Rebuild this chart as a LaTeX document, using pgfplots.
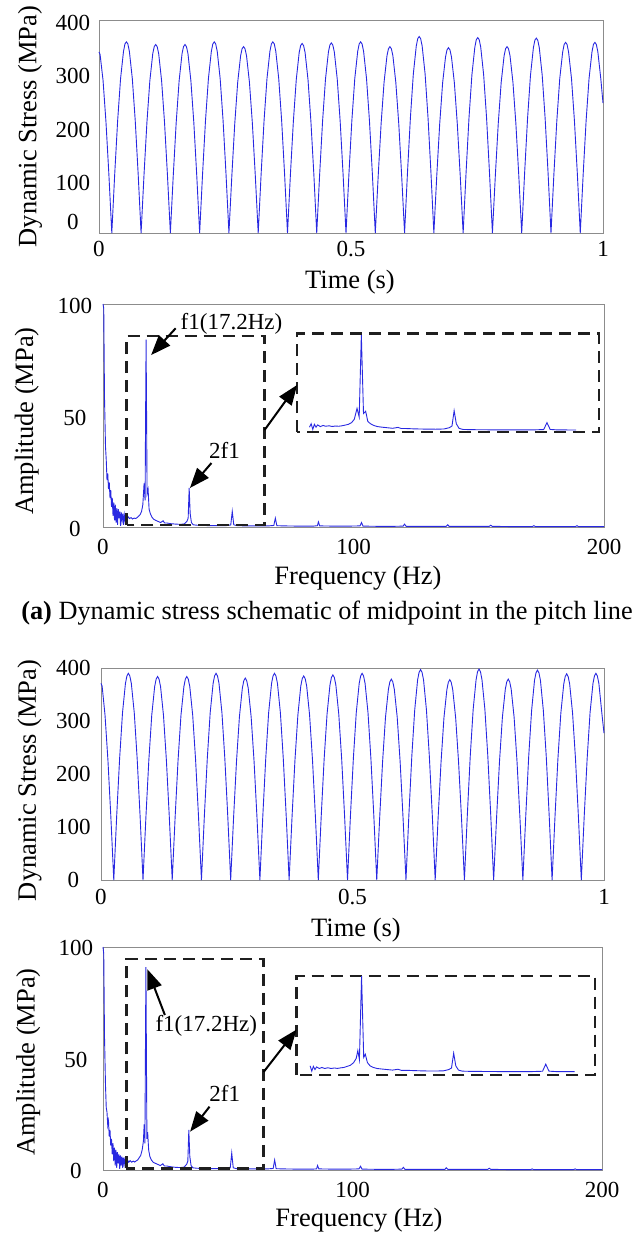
\documentclass[border=0pt]{standalone}
\usepackage{fontspec}
\setmainfont{Liberation Serif}
\usepackage{pgfplots}
\usepackage{pgfplotstable}
\pgfplotsset{compat=1.18}
\usetikzlibrary{arrows.meta}

\definecolor{sigblue}{RGB}{40,40,225}
\definecolor{framegray}{RGB}{140,140,140}

\pgfplotstableread{
t y
0 340
0.0022 335
0.0080 287
0.0138 209
0.0196 110
0.0254 0
0.0312 111
0.0370 211
0.0428 290
0.0486 341
0.0515 355
0.0544 359
0.0573 355
0.0603 341
0.0661 290
0.0719 211
0.0777 111
0.0835 0
0.0893 109
0.0951 208
0.1009 286
0.1067 337
0.1096 350
0.1125 354
0.1154 350
0.1184 337
0.1242 286
0.1300 208
0.1358 109
0.1416 0
0.1474 109
0.1532 208
0.1590 286
0.1648 337
0.1677 350
0.1706 354
0.1735 350
0.1765 337
0.1823 286
0.1881 208
0.1939 109
0.1997 0
0.2055 111
0.2113 211
0.2171 290
0.2229 341
0.2258 355
0.2287 359
0.2316 355
0.2346 341
0.2404 290
0.2462 211
0.2520 111
0.2578 0
0.2636 108
0.2694 206
0.2752 283
0.2810 333
0.2839 346
0.2868 350
0.2897 346
0.2927 333
0.2985 283
0.3043 206
0.3101 108
0.3159 0
0.3217 111
0.3275 211
0.3333 290
0.3391 341
0.3420 355
0.3449 359
0.3478 355
0.3508 341
0.3566 290
0.3624 211
0.3682 111
0.3740 0
0.3798 110
0.3856 209
0.3914 288
0.3972 339
0.4001 352
0.4030 356
0.4059 352
0.4089 339
0.4147 288
0.4205 209
0.4263 110
0.4320 0
0.4378 110
0.4436 210
0.4494 289
0.4552 340
0.4581 353
0.4610 357
0.4639 353
0.4669 340
0.4727 289
0.4785 210
0.4843 110
0.4901 0
0.4959 111
0.5017 211
0.5075 290
0.5133 341
0.5162 355
0.5191 359
0.5220 355
0.5250 341
0.5308 290
0.5366 211
0.5424 111
0.5482 0
0.5540 108
0.5598 206
0.5656 283
0.5714 333
0.5743 346
0.5772 350
0.5801 346
0.5831 333
0.5889 283
0.5947 206
0.6005 108
0.6063 0
0.6121 114
0.6179 217
0.6237 299
0.6295 351
0.6324 365
0.6353 369
0.6382 365
0.6412 351
0.6470 299
0.6528 217
0.6586 114
0.6644 0
0.6702 108
0.6760 205
0.6818 282
0.6876 331
0.6905 344
0.6934 348
0.6963 344
0.6993 331
0.7051 282
0.7109 205
0.7167 108
0.7225 0
0.7283 113
0.7341 216
0.7399 297
0.7457 349
0.7486 363
0.7515 367
0.7544 363
0.7574 349
0.7632 297
0.7690 216
0.7748 113
0.7806 0
0.7864 108
0.7922 206
0.7980 283
0.8038 333
0.8067 346
0.8096 350
0.8125 346
0.8155 333
0.8213 283
0.8271 206
0.8329 108
0.8387 0
0.8445 113
0.8503 215
0.8561 296
0.8619 348
0.8648 362
0.8677 366
0.8706 362
0.8736 348
0.8794 296
0.8852 215
0.8910 113
0.8968 0
0.9026 111
0.9084 211
0.9142 290
0.9200 340
0.9229 354
0.9258 358
0.9287 354
0.9317 340
0.9375 290
0.9433 211
0.9491 111
0.9549 0
0.9607 111
0.9665 211
0.9723 290
0.9781 340
0.9810 354
0.9839 358
0.9868 354
0.9898 340
0.9956 290
1.0000 244
}\timeA

\pgfplotstableread{
t y
0 371
0.0022 366
0.0080 311
0.0138 226
0.0196 119
0.0254 0
0.0312 121
0.0370 229
0.0428 316
0.0486 371
0.0515 385
0.0544 390
0.0573 385
0.0603 371
0.0661 316
0.0719 229
0.0777 121
0.0835 0
0.0893 119
0.0951 226
0.1009 311
0.1067 365
0.1096 379
0.1125 384
0.1154 379
0.1184 365
0.1242 311
0.1300 226
0.1358 119
0.1416 0
0.1474 119
0.1532 226
0.1590 311
0.1648 365
0.1677 379
0.1706 384
0.1735 379
0.1765 365
0.1823 311
0.1881 226
0.1939 119
0.1997 0
0.2055 121
0.2113 229
0.2171 316
0.2229 371
0.2258 385
0.2287 390
0.2316 385
0.2346 371
0.2404 316
0.2462 229
0.2520 121
0.2578 0
0.2636 118
0.2694 224
0.2752 308
0.2810 362
0.2839 376
0.2868 381
0.2897 376
0.2927 362
0.2985 308
0.3043 224
0.3101 118
0.3159 0
0.3217 121
0.3275 229
0.3333 316
0.3391 371
0.3420 385
0.3449 390
0.3478 385
0.3508 371
0.3566 316
0.3624 229
0.3682 121
0.3740 0
0.3798 119
0.3856 226
0.3914 311
0.3972 366
0.4001 380
0.4030 385
0.4059 380
0.4089 366
0.4147 311
0.4205 226
0.4263 119
0.4320 0
0.4378 120
0.4436 228
0.4494 313
0.4552 368
0.4581 382
0.4610 387
0.4639 382
0.4669 368
0.4727 313
0.4785 228
0.4843 120
0.4901 0
0.4959 121
0.5017 229
0.5075 316
0.5133 371
0.5162 385
0.5191 390
0.5220 385
0.5250 371
0.5308 316
0.5366 229
0.5424 121
0.5482 0
0.5540 117
0.5598 223
0.5656 307
0.5714 360
0.5743 374
0.5772 379
0.5801 374
0.5831 360
0.5889 307
0.5947 223
0.6005 117
0.6063 0
0.6121 123
0.6179 233
0.6237 321
0.6295 378
0.6324 392
0.6353 397
0.6382 392
0.6412 378
0.6470 321
0.6528 233
0.6586 123
0.6644 0
0.6702 117
0.6760 222
0.6818 306
0.6876 359
0.6905 373
0.6934 378
0.6963 373
0.6993 359
0.7051 306
0.7109 222
0.7167 117
0.7225 0
0.7283 123
0.7341 234
0.7399 322
0.7457 378
0.7486 393
0.7515 398
0.7544 393
0.7574 378
0.7632 322
0.7690 234
0.7748 123
0.7806 0
0.7864 117
0.7922 223
0.7980 307
0.8038 360
0.8067 374
0.8096 379
0.8125 374
0.8155 360
0.8213 307
0.8271 223
0.8329 117
0.8387 0
0.8445 122
0.8503 233
0.8561 320
0.8619 377
0.8648 391
0.8677 396
0.8706 391
0.8736 377
0.8794 320
0.8852 233
0.8910 122
0.8968 0
0.9026 120
0.9084 229
0.9142 315
0.9200 370
0.9229 384
0.9258 389
0.9287 384
0.9317 370
0.9375 315
0.9433 229
0.9491 120
0.9549 0
0.9607 121
0.9665 229
0.9723 316
0.9781 371
0.9810 385
0.9839 390
0.9868 385
0.9898 371
0.9956 316
1.0000 277
}\timeB

\pgfplotstableread{
f a
0.0 100
0.3 98
0.6 58
1.0 36
1.3 30
1.6 21
1.9 24
2.2 17
2.5 20
2.8 13
3.1 16.5
3.4 9
3.7 13
4.0 5
4.3 11
4.6 3
4.9 10
5.2 2
5.5 8.5
5.8 1
6.1 8
6.4 4
6.7 7
7.0 0.5
7.3 6.5
7.6 3
7.9 6
8.2 1
8.5 5.5
8.8 3
9.1 5
9.6 3.5
10.1 4.5
10.6 3.8
11.2 4.2
11.8 3.6
12.4 4
13.0 3.8
13.6 4.2
14.2 4.8
14.8 5.5
15.4 7
15.9 10
16.4 19.5
16.8 12
17.2 84
17.6 15
18.0 17
18.4 8
18.9 6
19.5 4.5
20.2 3.5
21.0 3
22.0 2.5
23.0 2
24.0 2.8
24.6 1.8
25.5 1.8
27.0 1.5
29.0 1.3
31.0 1.2
32.5 1.4
33.5 2.5
34.0 4
34.4 17.5
34.8 6
35.3 2
36.0 1
37.5 0.8
40 0.7
43 0.6
46 0.6
49 0.6
51.0 0.9
51.6 7
52.2 1
53.5 0.6
57 0.5
62 0.5
66 0.5
68.2 0.7
68.8 4
69.4 0.6
72 0.5
78 0.4
84 0.4
85.6 0.6
86 2.3
86.5 0.5
92 0.4
98 0.4
102.6 0.5
103.2 2
103.8 0.4
110 0.3
116 0.3
119.8 0.4
120.4 1.3
121 0.3
128 0.3
134 0.3
137.0 0.3
137.6 1
138.2 0.3
145 0.3
151 0.3
154.2 0.3
154.8 0.8
155.4 0.3
162 0.2
168 0.2
171.4 0.2
172 0.6
172.6 0.2
180 0.2
186 0.2
188.6 0.2
189.2 0.6
189.8 0.2
195 0.2
200 0.2
}\specA

\pgfplotstableread{
f a
0.0 100
0.3 97
0.6 60
1.0 38
1.3 28
1.6 26
1.9 20
2.2 22
2.5 15
2.8 18
3.1 11
3.4 14
3.7 7
4.0 12
4.3 4
4.6 10
4.9 2
5.2 9
5.5 1
5.8 8
6.1 3
6.4 7
6.7 0.5
7.0 6.5
7.3 2
7.6 6
7.9 1
8.2 5.5
8.5 2.5
8.8 5
9.3 3.5
9.8 4.5
10.3 3.5
10.9 4.2
11.5 3.5
12.1 4
12.7 3.6
13.3 4.1
13.9 4.5
14.5 5.5
15.1 6.5
15.7 9
16.2 13
16.5 20.5
16.8 12
17.2 91
17.6 14
17.9 17
18.3 9
18.8 6
19.4 4.5
20.1 3.5
21.0 3
22.0 2.5
23.0 2
24.0 2.8
24.6 1.8
25.5 1.8
27.0 1.5
29.0 1.2
31.0 1.1
32.5 1.3
33.5 2.5
34.0 4
34.4 18
34.8 6
35.3 2
36.0 1
37.5 0.8
40 0.7
43 0.6
46 0.6
49 0.6
51.0 0.9
51.6 7.6
52.2 1
53.5 0.6
57 0.5
62 0.5
66 0.5
68.2 0.7
68.8 4.5
69.4 0.6
72 0.5
78 0.4
84 0.4
85.6 0.5
86 2
86.5 0.5
92 0.4
98 0.4
102.6 0.5
103.2 1.7
103.8 0.4
110 0.3
116 0.3
119.8 0.4
120.4 1.2
121 0.3
128 0.3
134 0.3
137.0 0.3
137.6 1
138.2 0.3
145 0.3
151 0.3
154.2 0.3
154.8 0.8
155.4 0.3
162 0.2
168 0.2
171.4 0.2
172 0.5
172.6 0.2
180 0.2
186 0.2
188.6 0.2
189.2 0.5
189.8 0.2
195 0.2
200 0.2
}\specB

\pgfplotsset{
  base/.style={
    scale only axis,
    anchor=south west,
    axis line style={draw=framegray, line width=0.9pt},
    major tick length=0pt,
    tick style={draw=none},
    /pgf/number format/assume math mode=true,
    tick label style={font=\fontsize{23}{25}\selectfont},
    label style={font=\fontsize{26.5}{29}\selectfont},
    clip=false,
    xticklabel style={anchor=center},
    yticklabel style={anchor=center},
  },
  sig/.style={sigblue, line width=0.9pt, mark=none},
  inset/.style={
    scale only axis,
    anchor=south west,
    hide axis,
    clip=false,
  },
}
\tikzset{
  dashbox/.style={draw=black!88, line width=2.4pt, dash pattern=on 12pt off 7pt},
  bigarrow/.style={draw=black, line width=2pt, -{Triangle[length=20pt,width=15pt]}},
  annot/.style={font=\fontsize{23}{25}\selectfont, inner sep=0pt},
}

\begin{document}
\begin{tikzpicture}
\path[use as bounding box] (0,0) rectangle (640pt,-1235pt);

% ---------- Panel 1: time signal ----------
\begin{axis}[base,
  at={(99pt,-233pt)}, width=504pt, height=213pt,
  xmin=0, xmax=1, ymin=0, ymax=400,
  xtick={0,0.5,1}, ytick={100,200,300,400},
  extra y ticks={0}, extra y tick style={yticklabel style={yshift=14pt}},
  xticklabel style={yshift=-16pt},
  yticklabel style={xshift=-26pt, yshift=-3pt},
  xlabel={Time (s)}, ylabel={Dynamic Stress (MPa)},
  xlabel style={at={(axis description cs:0.498,-0.23)}, anchor=center},
  ylabel style={at={(axis description cs:-0.137,0.5)}, anchor=center},
]
\addplot[sig] table[x=t, y=y] {\timeA};
\end{axis}

% ---------- Panel 2: spectrum ----------
\begin{axis}[base,
  at={(103pt,-527pt)}, width=501pt, height=223pt,
  xmin=0, xmax=200, ymin=0, ymax=100,
  xtick={0,100,200}, ytick={0,50,100},
  xticklabel style={yshift=-20pt},
  yticklabel style={xshift=-28pt, yshift=-2pt},
  xlabel={Frequency (Hz)}, ylabel={Amplitude (MPa)},
  xlabel style={at={(axis description cs:0.509,-0.229)}, anchor=center},
  ylabel style={at={(axis description cs:-0.152,0.475)}, anchor=center},
]
\addplot[sig] table[x=f, y=a] {\specA};
\draw[dashbox] (axis cs:9.4,0.9) rectangle (axis cs:64.5,85.6);
\draw[dashbox] (axis cs:77.5,42.5) rectangle (axis cs:197.9,86.8);
\coordinate (insA) at (axis cs:77.5,42.5);
\draw[bigarrow] (axis cs:29.0,89.1) -- (axis cs:19.2,77.1);
\draw[bigarrow] (axis cs:43.3,28.7) -- (axis cs:34.7,17.5);
\draw[bigarrow] (axis cs:64.5,43.5) -- (axis cs:77.5,63.7);
\node[annot] at (axis cs:51.3,91.3) {f1(17.2Hz)};
\node[annot] at (axis cs:48.5,34.5) {2f1};
\end{axis}
\begin{axis}[inset, at={(insA)}, width=301.6pt, height=98.8pt,
  xmin=5.3, xmax=61.2, ymin=-1.46, ymax=85.4]
\addplot[sig] table[x=f, y=a, restrict x to domain=7.6:61] {\specA};
\end{axis}

\node[font=\fontsize{26.3}{29}\selectfont] at (327pt,-613pt)
  {\textbf{(a)} Dynamic stress schematic of midpoint in the pitch line};

% ---------- Panel 3: time signal ----------
\begin{axis}[base,
  at={(101pt,-880pt)}, width=503pt, height=212pt,
  xmin=0, xmax=1, ymin=0, ymax=400,
  xtick={0,0.5,1}, ytick={0,100,200,300,400},
  xticklabel style={yshift=-17pt},
  yticklabel style={xshift=-27.5pt},
  xlabel={Time (s)}, ylabel={Dynamic Stress (MPa)},
  xlabel style={at={(axis description cs:0.507,-0.236)}, anchor=center},
  ylabel style={at={(axis description cs:-0.142,0.47)}, anchor=center},
]
\addplot[sig] table[x=t, y=y] {\timeB};
\end{axis}

% ---------- Panel 4: spectrum ----------
\begin{axis}[base,
  at={(103pt,-1170pt)}, width=499pt, height=223pt,
  xmin=0, xmax=200, ymin=0, ymax=100,
  xtick={0,100,200}, ytick={0,50,100},
  xticklabel style={yshift=-20pt},
  yticklabel style={xshift=-27pt, yshift=-1pt},
  xlabel={Frequency (Hz)}, ylabel={Amplitude (MPa)},
  xlabel style={at={(axis description cs:0.513,-0.224)}, anchor=center},
  ylabel style={at={(axis description cs:-0.150,0.484)}, anchor=center},
]
\addplot[sig] table[x=f, y=a] {\specB};
\draw[dashbox] (axis cs:9.4,0.75) rectangle (axis cs:64.4,94.5);
\draw[dashbox] (axis cs:77.6,42.6) rectangle (axis cs:197.2,87);
\coordinate (insB) at (axis cs:77.6,42.6);
\draw[bigarrow] (axis cs:24.8,69.5) -- (axis cs:17.8,90);
\draw[bigarrow] (axis cs:42.7,28.4) -- (axis cs:34.9,17.2);
\draw[bigarrow] (axis cs:64.4,44) -- (axis cs:77.6,63);
\node[annot] at (axis cs:41.4,64.6) {f1(17.2Hz)};
\node[annot] at (axis cs:48.8,34.5) {2f1};
\end{axis}
\begin{axis}[inset, at={(insB)}, width=298.4pt, height=99pt,
  xmin=5.07, xmax=60.8, ymin=-2.66, ymax=91]
\addplot[sig] table[x=f, y=a, restrict x to domain=7.5:60.5] {\specB};
\end{axis}

\end{tikzpicture}
\end{document}
